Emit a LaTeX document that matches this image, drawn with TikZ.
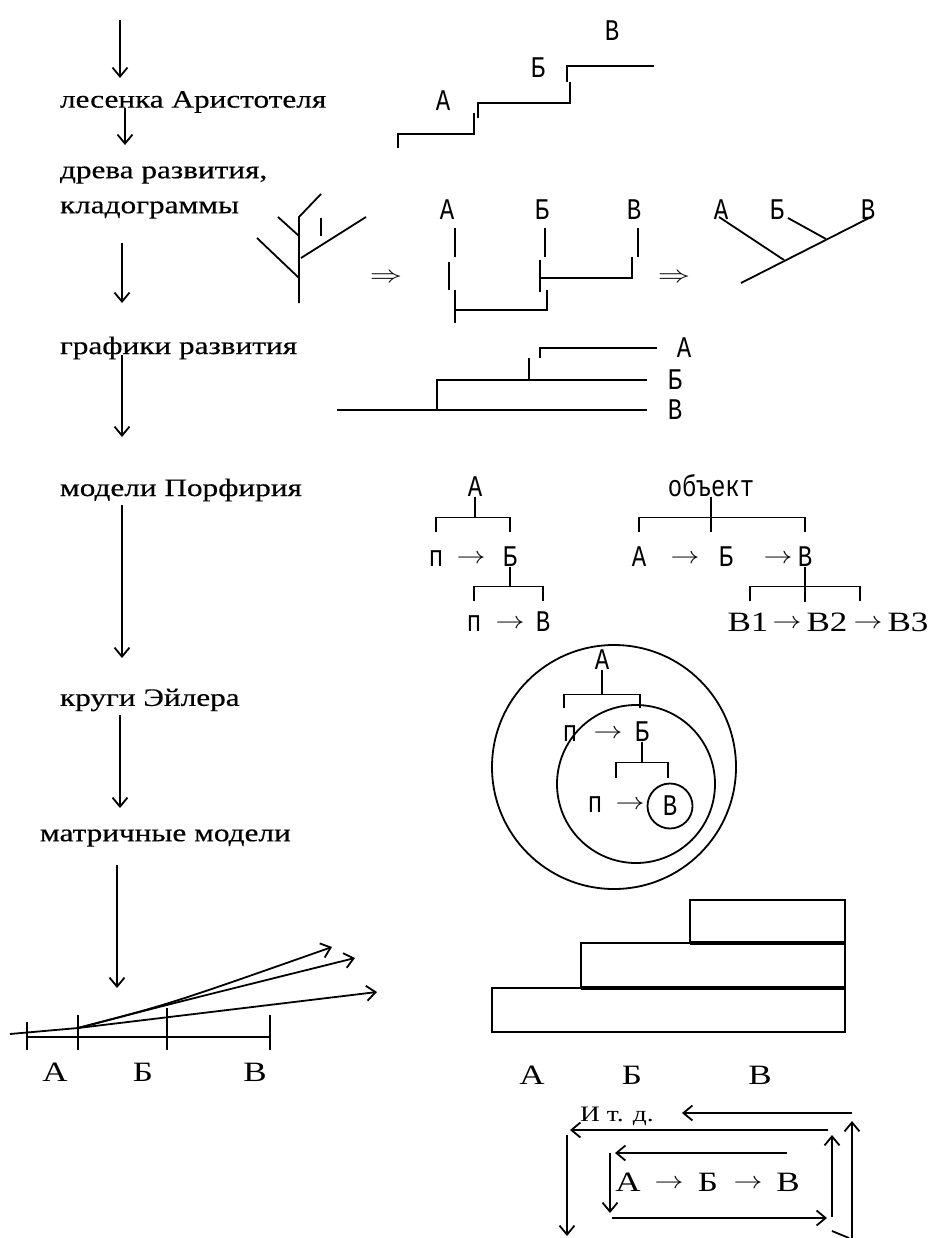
\RequirePackage{fix-cm}
\documentclass[tikz,border=0pt]{standalone}
\usepackage{fontspec}
\setmainfont{Liberation Serif}
\newfontfamily\wordfont[FakeStretch=1.25]{Liberation Serif}
\newfontfamily\labelfont[FakeStretch=1.25,FakeBold=0.4]{Liberation Serif}
\newfontfamily\typefont[FakeStretch=0.8]{Liberation Mono}
\usetikzlibrary{arrows.meta}

\newcommand{\rarr}{\scalebox{1.7}[1.4]{$\rightarrow$}}
\newcommand{\thenarr}{\scalebox{1.9}[1.4]{$\Rightarrow$}}

\tikzset{
  lbl/.style={font=\labelfont\fontsize{25}{28}\selectfont, anchor=west},
  rm/.style={font=\wordfont\fontsize{28}{30}\selectfont, text height=18pt, text depth=0pt},
  tt/.style={font=\typefont\fontsize{30}{32}\selectfont, text height=19pt, text depth=0pt},
  arr/.style={font=\fontsize{17}{20}\selectfont, text height=12pt, text depth=0pt},
  ln/.style={line width=1.8pt},
  flow/.style={line width=1.8pt, -{Straight Barb[length=9pt,width=15pt,line width=1.8pt]}},
  box/.style={line width=2.2pt},
}

\begin{document}
\begin{tikzpicture}[x=1pt, y=1pt, yscale=-1, inner sep=0pt, outer sep=0pt]
\fill[white] (0,0) rectangle (930,1238);
\useasboundingbox (0,0) rectangle (930,1238);

% left column
\node[lbl] (lesenka) at (60,102) {лесенка Аристотеля};
\node[lbl] (dreva) at (60,175) {древа развития,};
\node[lbl] (klado) at (60,210) {кладограммы};
\node[lbl] (grafiki) at (60,348) {графики развития};
\node[lbl] (porf) at (60,490) {модели Порфирия};
\node[lbl] (eiler) at (60,700) {круги Эйлера};
\node[lbl] (matr) at (40,838) {матричные модели};

\foreach \n/\x/\ya/\yb in {1/120/20/78, 2/125/108/145, 3/122/243/303,
    4/122/355/437, 5/122/505/658, 6/120/715/808, 7/117/865/988}{
  \coordinate (f\n a) at (\x,\ya);
  \coordinate (f\n b) at (\x,\yb);
  \draw[flow] (f\n a) -- (f\n b);
}

% Aristotle ladder
\node[tt] (stA) at (443,101) {А};
\node[tt] (stB) at (538,68) {Б};
\node[tt] (stV) at (612,31) {В};
\draw[ln] (398,148) -- (398,134) -- (474,134) -- (474,113);
\draw[ln] (478,118) -- (478,103) -- (570,103) -- (570,82);
\draw[ln] (567,82) -- (567,66) -- (654,66);

% tree
\draw[ln] (299,303) -- (299,217) -- (321,194);
\draw[ln] (257,238) -- (299,278);
\draw[ln] (278,217) -- (299,236);
\draw[ln] (301,258) -- (366,217);
\draw[ln] (321,218) -- (321,236);
\node[arr] (imp1) at (386,277) {\thenarr};

% cladogram
\node[tt] (cA) at (447,210) {А};
\node[tt] (cB) at (542,210) {Б};
\node[tt] (cV) at (634,210) {В};
\draw[ln] (455,228) -- (455,257);
\draw[ln] (449,262) -- (449,290);
\draw[ln] (455,290) -- (455,323);
\draw[ln] (455,310) -- (547,310) -- (547,290);
\draw[ln] (545,228) -- (545,257);
\draw[ln] (540,260) -- (540,292);
\draw[ln] (540,278) -- (632,278) -- (632,257);
\draw[ln] (638,228) -- (638,257);
\node[arr] (imp2) at (674,277) {\thenarr};

\node[tt] (dA) at (721,210) {А};
\node[tt] (dB) at (777,210) {Б};
\node[tt] (dV) at (868,210) {В};
\draw[ln] (741,283) -- (871,217);
\draw[ln] (719,217) -- (784,260);
\draw[ln] (788,218) -- (826,239);

% development graphs
\node[tt] (gA) at (684,348) {А};
\node[tt] (gB) at (675,380) {Б};
\node[tt] (gV) at (675,410) {В};
\draw[ln] (657,348) -- (540,348) -- (540,358);
\draw[ln] (529,358) -- (529,380);
\draw[ln] (647,380) -- (437,380) -- (437,410);
\draw[ln] (337,410) -- (647,410);

% Porphyry
\node[tt] (pA) at (475,487) {А};
\node[tt] (pp1) at (436,557) {п};
\node[arr] (par1) at (471,557) {\rarr};
\node[tt] (pB) at (510,557) {Б};
\node[tt] (pp2) at (474,622) {п};
\node[arr] (par2) at (510,622) {\rarr};
\node[tt] (pV) at (543,622) {В};
\draw[ln] (pA.south) -- ++(0,21) coordinate (barA);
\draw[ln] (barA -| pp1) ++(0,14) -- (barA -| pp1) -- (barA -| pB) -- ++(0,14);
\draw[ln] (pB.south) -- ++(0,20) coordinate (barB);
\draw[ln] (barB -| pp2) ++(0,14) -- (barB -| pp2) -- (barB -| pV) -- ++(0,14);

\node[tt] (obj) at (711,487) {объект};
\node[tt] (oA) at (639,557) {А};
\node[arr] (oar1) at (685,557) {\rarr};
\node[tt] (oB) at (726,557) {Б};
\node[arr] (oar2) at (778,557) {\rarr};
\node[tt] (oV) at (805,557) {В};
\draw[ln] (obj.south) -- ++(0,35);
\draw[ln] (barA -| oA) ++(0,14) -- (barA -| oA) -- (barA -| oV) -- ++(0,14);
\node[rm] (v1) at (748,622) {В1};
\node[arr] (varr1) at (787,622) {\rarr};
\node[rm] (v2) at (827,622) {В2};
\node[arr] (varr2) at (868,622) {\rarr};
\node[rm] (v3) at (908,622) {В3};
\draw[ln] (oV.south) -- ++(0,35);
\draw[ln] (oV.south) ++(0,20) coordinate (barV) ++(-55,14) -- ++(0,-14) -- ++(110,0) -- ++(0,14);

% Euler circles
\draw[ln] (614,767) circle[radius=122];
\draw[ln] (636,784) circle[radius=79];
\node[tt] (eA) at (602,660) {А};
\node[tt] (ep1) at (570,732) {п};
\node[arr] (earr1) at (608,732) {\rarr};
\node[tt] (eB) at (642,732) {Б};
\node[tt] (ep2) at (595,803) {п};
\node[arr] (earr2) at (630,803) {\rarr};
\node[tt, draw, circle, line width=1.8pt, minimum size=45pt] (eV) at (670,806) {В};
\draw[ln] (eA.south) -- ++(0,25) coordinate (barE);
\draw[ln] (barE) ++(-38,13) -- ++(0,-13) -- ++(76,0) -- ++(0,13);
\draw[ln] (eB.south) -- ++(0,21) coordinate (barF);
\draw[ln] (barF) ++(-26,15) -- ++(0,-15) -- ++(52,0) -- ++(0,15);

% matrix models, axis
\draw[ln] (27,1037) -- (270,1037);
\foreach \x/\t in {27/1022, 78/1015, 167/1008, 270/1015}
  \draw[ln] (\x,\t) -- (\x,1050);
\coordinate (fan) at (78,1028);
\coordinate (fanin) at (10,1034);
\coordinate (tip1) at (332,947);
\coordinate (tip2) at (355,958);
\coordinate (tip3) at (377,992);
\draw[ln] (fanin) -- (fan);
\draw[flow] (fan) .. controls (170,1004) .. (tip1);
\draw[flow] (fan) .. controls (170,1004) .. (tip2);
\draw[flow] (fan) -- (tip3);
\node[rm] (mA) at (55,1072) {А};
\node[rm] (mB) at (143,1072) {Б};
\node[rm] (mV) at (255,1072) {В};

% matrix models, boxes
\draw[box] (492,988) rectangle (845,1032);
\draw[box] (581,943) rectangle (845,988);
\draw[box] (690,900) rectangle (845,943);
\draw[line width=4pt] (581,988) -- (845,988);
\draw[line width=4pt] (690,943) -- (845,943);
\node[rm] (rA) at (532,1075) {А};
\node[rm] (rB) at (632,1075) {Б};
\node[rm] (rV) at (760,1075) {В};

% cycle
\node[rm] (itd) at (617,1112) {\fontsize{22}{24}\selectfont И т. д.};
\node[rm] (yA) at (628,1182) {А};
\node[arr] (yarr1) at (669,1182) {\rarr};
\node[rm] (yB) at (708,1182) {Б};
\node[arr] (yarr2) at (748,1182) {\rarr};
\node[rm] (yV) at (788,1182) {В};
\foreach \a/\b/\xa/\ya/\xb/\yb in {
    q1/r1/852/1238/852/1121, q2/r2/852/1113/682/1113,
    q3/r3/828/1130/570/1130, q4/r4/567/1135/567/1236,
    q5/r5/832/1217/832/1135, q6/r6/787/1153/615/1153,
    q7/r7/610/1153/610/1213, q8/r8/612/1218/827/1218}{
  \coordinate (\a) at (\xa,\ya);
  \coordinate (\b) at (\xb,\yb);
  \draw[flow] (\a) -- (\b);
}
\coordinate (q9) at (832,1231);
\coordinate (r9) at (849,1238);
\draw[ln] (q9) -- (r9);

\end{tikzpicture}
\end{document}
